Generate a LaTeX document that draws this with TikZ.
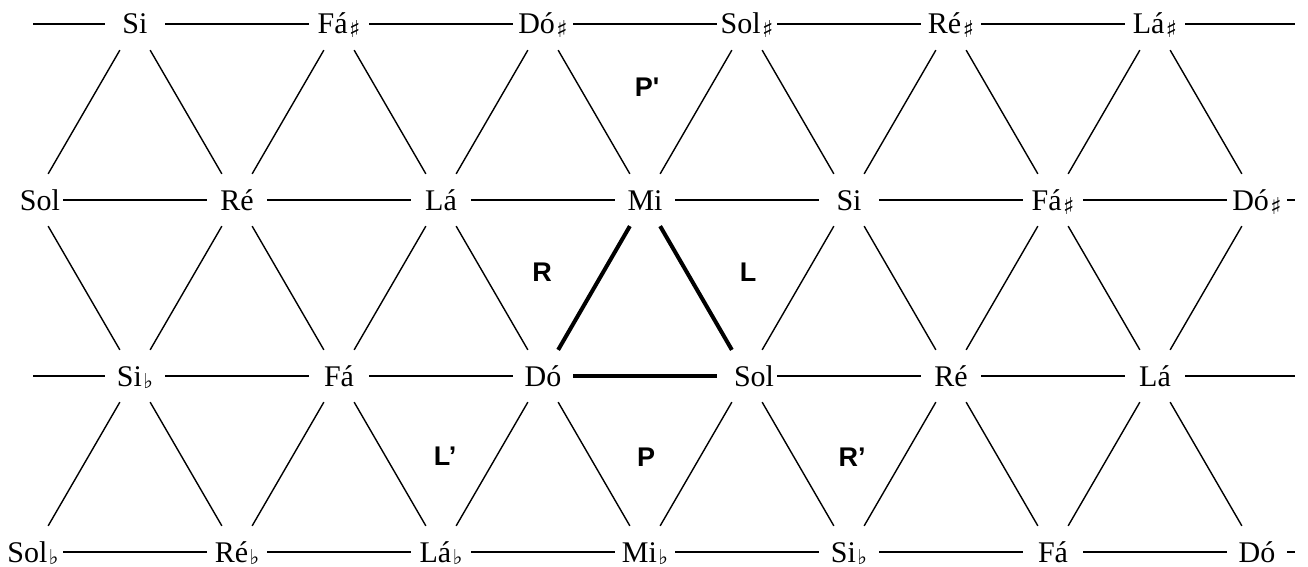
\documentclass[tikz,border=0pt]{standalone}
\usepackage{fontspec}
\usepackage{graphicx}
\setmainfont{Liberation Serif}
\newfontfamily\oplabelfont{Liberation Sans}[Ligatures=TeXOff]
\newfontfamily\accfont{DejaVu Sans}
\newcommand\accsharp{\kern1.5pt\raisebox{-4pt}{\resizebox*{!}{17pt}{\accfont\bfseries ♯}}}
\newcommand\accflat{\kern1.5pt\raisebox{-2pt}{\resizebox*{!}{15pt}{\accfont\bfseries ♭}}}
\newcommand\solnudge{\hspace{14pt}}
\begin{document}
\begin{tikzpicture}[x=1pt,y=-1pt,
  note/.style={circle,minimum size=60pt,inner sep=0pt,text height=20pt,text depth=0pt,
               font=\fontsize{30}{34}\selectfont},
  edge/.style={line width=1.4pt},
  chord/.style={line width=4pt},
  op/.style={inner sep=0pt,text height=19.3pt,text depth=0pt,
             font=\oplabelfont\bfseries\fontsize{27}{30}\selectfont}]
\useasboundingbox (0,0) rectangle (1308,567);

% pitch classes, row by row (fifths run left to right)
\foreach \name [count=\i from 0] in {Si,Fá\accsharp,Dó\accsharp,Sol\accsharp,Ré\accsharp,Lá\accsharp}
  \node[note] (a\i) at (135+204*\i,24) {\makebox[0pt]{\name}};
\foreach \name [count=\i from 0] in {\solnudge Sol,Ré,Lá,Mi,Si,Fá\accsharp,Dó\accsharp}
  \node[note] (b\i) at (33+204*\i,200) {\makebox[0pt]{\name}};
\foreach \name [count=\i from 0] in {Si\accflat,Fá,Dó,\solnudge Sol,Ré,Lá}
  \node[note] (c\i) at (135+204*\i,376) {\makebox[0pt]{\name}};
\foreach \name [count=\i from 0] in {Sol\accflat,Ré\accflat,Lá\accflat,Mi\accflat,Si\accflat,Fá,Dó}
  \node[note] (d\i) at (33+204*\i,552) {\makebox[0pt]{\name}};

% open ends of the rows
\coordinate (aL) at (33,24);   \coordinate (aR) at (1295,24);
\coordinate (bR) at (1295,200);
\coordinate (cL) at (33,376);  \coordinate (cR) at (1295,376);
\coordinate (dR) at (1295,552);

% horizontal lines
\draw[edge] (aL) -- (a0);  \draw[edge] (a5) -- (aR);
\draw[edge] (b6) -- (bR);
\draw[edge] (cL) -- (c0);  \draw[edge] (c5) -- (cR);
\draw[edge] (d6) -- (dR);
\foreach \i in {0,...,4}{
  \pgfmathtruncatemacro\j{\i+1}
  \draw[edge] (a\i) -- (a\j);
  \ifnum\i=2\else\draw[edge] (c\i) -- (c\j);\fi
}
\foreach \i in {0,...,5}{
  \pgfmathtruncatemacro\j{\i+1}
  \draw[edge] (b\i) -- (b\j);
  \draw[edge] (d\i) -- (d\j);
}

% diagonal lines
\foreach \i in {0,...,5}{
  \pgfmathtruncatemacro\j{\i+1}
  \draw[edge] (a\i) -- (b\i);  \draw[edge] (a\i) -- (b\j);
  \draw[edge] (c\i) -- (d\i);  \draw[edge] (c\i) -- (d\j);
  \ifnum\i=2\else\draw[edge] (c\i) -- (b\j);\fi
  \ifnum\i=3\else\draw[edge] (c\i) -- (b\i);\fi
}

% the C major triad
\draw[chord] (c2) -- (b3);
\draw[chord] (b3) -- (c3);
\draw[chord] (c2) -- (c3);

% transformations
\node[op] (opR)  at (542,272) {R};
\node[op] (opL)  at (748,272) {L};
\node[op] (opPp) at (647,87)  {P'};
\node[op] (opLp) at (445,456) {L’};
\node[op] (opP)  at (646,457) {P};
\node[op] (opRp) at (852,457) {R’};
\end{tikzpicture}
\end{document}
